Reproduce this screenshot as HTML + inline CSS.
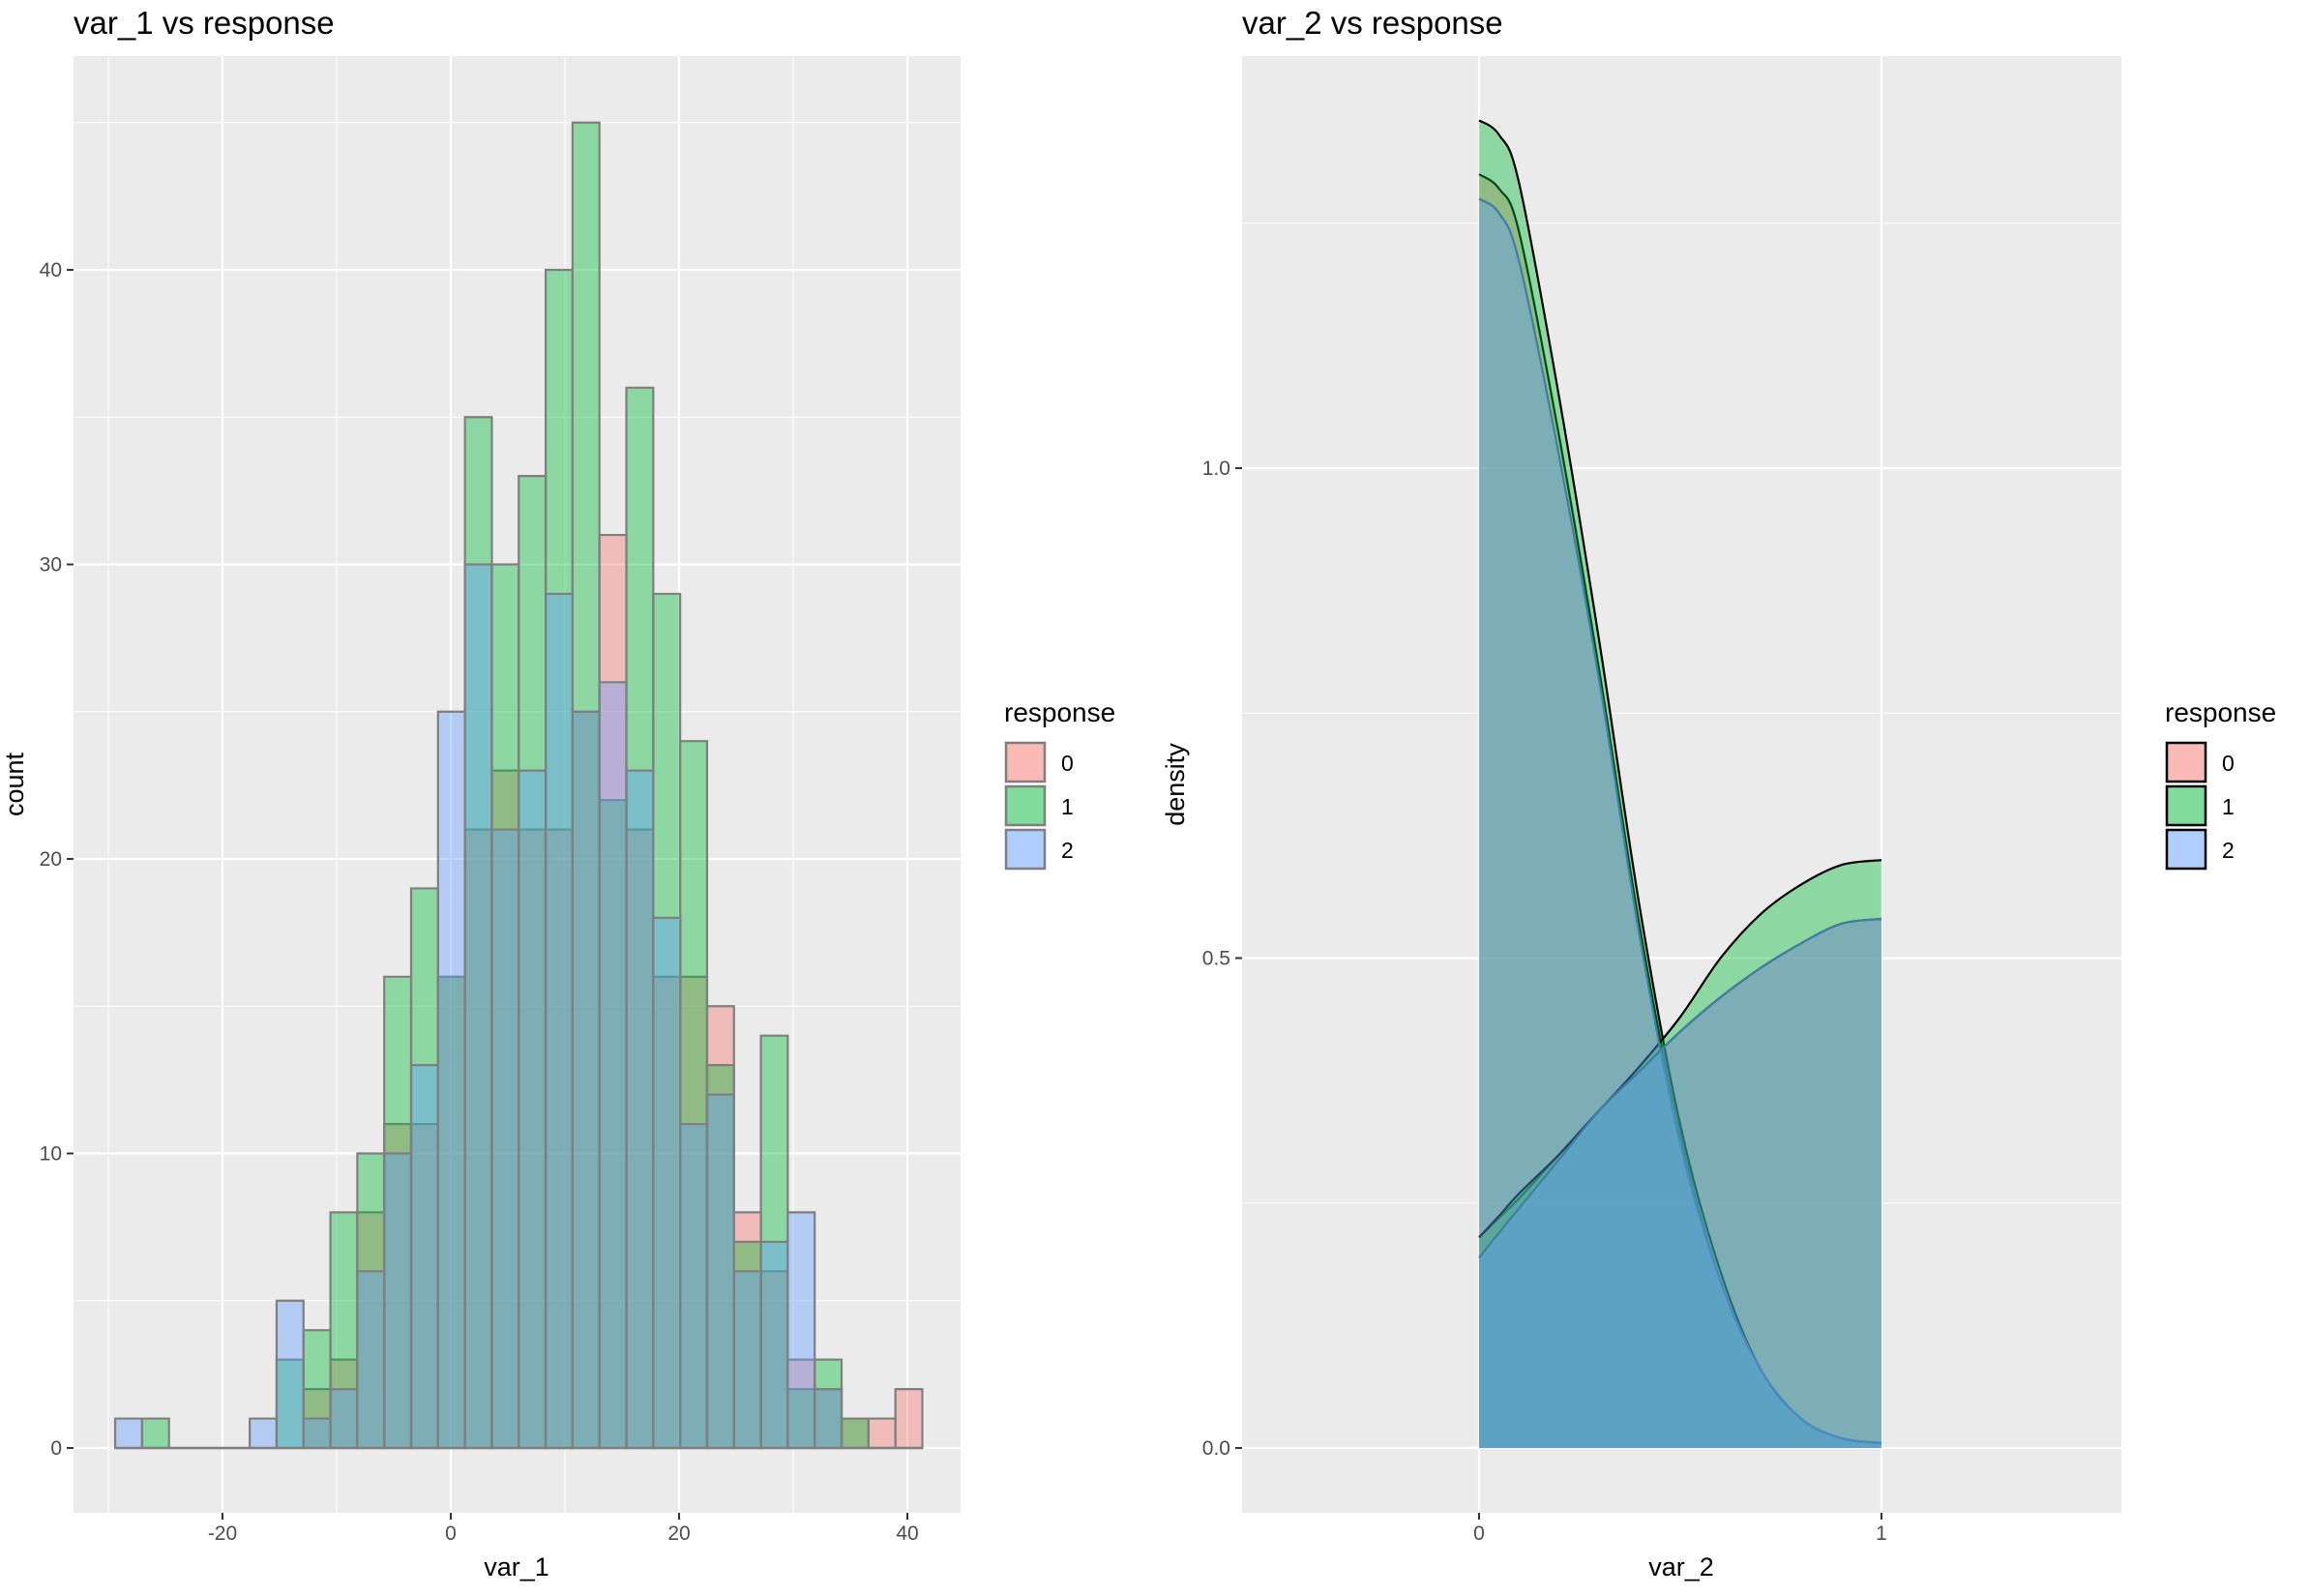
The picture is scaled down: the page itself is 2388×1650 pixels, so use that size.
<!DOCTYPE html>
<html><head><meta charset="utf-8"><style>
html,body{margin:0;padding:0;background:#fff;}
svg{display:block;font-family:"Liberation Sans",Arial,sans-serif;}
</style></head><body>
<svg id="chart" width="2388" height="1650" viewBox="0 0 2388 1650" xmlns="http://www.w3.org/2000/svg"></svg>
<script>
// ---- Histogram data (var_1), 30 bins ----
const binStart = -29.4;
const binWidth = 2.357;
const histGroups = ['0','1','2'];
const counts0 = [0,0,0,0,0,0,0,2,3,8,11,11,16,21,23,21,21,25,31,21,16,16,15,8,6,3,2,1,1,2];
const counts1 = [0,1,0,0,0,0,3,4,8,10,16,19,16,35,30,33,40,45,22,36,29,24,13,7,14,2,3,1,0,0];
const counts2 = [1,0,0,0,0,1,5,1,2,6,10,13,25,30,21,23,29,25,26,23,18,11,12,6,7,8,2,0,0,0];
const histXTicks = [-20,0,20,40];
const histYTicks = [0,10,20,30,40];
// ---- Density data (var_2) ----
const densX = [0,0.05,0.1,0.2,0.3,0.4,0.5,0.6,0.7,0.8,0.9,1];
const densDec0 = [1.30,1.285,1.24,1.03,0.79,0.53,0.32,0.17,0.08,0.03,0.01,0.005];
const densInc0 = [0.215,0.235,0.255,0.30,0.345,0.385,0.425,0.46,0.49,0.515,0.535,0.54];
const densDec1 = [1.355,1.34,1.29,1.07,0.82,0.55,0.33,0.18,0.08,0.03,0.01,0.005];
const densInc1 = [0.215,0.237,0.26,0.30,0.345,0.39,0.44,0.50,0.545,0.575,0.595,0.60];
const densDec2 = [1.275,1.26,1.21,1.01,0.78,0.52,0.31,0.17,0.08,0.03,0.01,0.005];
const densInc2 = [0.194,0.22,0.245,0.295,0.345,0.385,0.425,0.46,0.49,0.515,0.535,0.54];
const densXTicks = [0,1];
const densYTicks = [0,0.5,1.0];
const densYLabels = ['0.0','0.5','1.0'];

const NS='http://www.w3.org/2000/svg';
const svg=document.getElementById('chart');
const fills=['#F8766D','#00BA38','#619CFF'];
const ALPHA=0.4;
function mk(tag,attrs,parent){const e=document.createElementNS(NS,tag);for(const k in attrs)e.setAttribute(k,attrs[k]);(parent||svg).appendChild(e);return e;}

// ===== Left panel =====
const L={x0:76,x1:993,y0:58,y1:1564};
const hx=v=>466+v*11.8;
const hy=v=>1497-v*30.45;
const gL=mk('g',{});


const bgL=mk('rect',{x:L.x0,y:L.y0,width:L.x1-L.x0,height:L.y1-L.y0,fill:'#EBEBEB'},gL);


[-30,-10,10,30].forEach(v=>{const l=mk('line',{x1:hx(v),x2:hx(v),y1:L.y0,y2:L.y1,stroke:'#fff','stroke-width':1},gL);});
[5,15,25,35,45].forEach(v=>{const l=mk('line',{x1:L.x0,x2:L.x1,y1:hy(v),y2:hy(v),stroke:'#fff','stroke-width':1},gL);});
histXTicks.forEach(v=>{const l=mk('line',{x1:hx(v),x2:hx(v),y1:L.y0,y2:L.y1,stroke:'#fff','stroke-width':2.2},gL);});
histYTicks.forEach(v=>{const l=mk('line',{x1:L.x0,x2:L.x1,y1:hy(v),y2:hy(v),stroke:'#fff','stroke-width':2.2},gL);});
[counts0,counts1,counts2].forEach((arr,gi)=>{
  arr.forEach((c,i)=>{
    const xa=hx(binStart+i*binWidth), xb=hx(binStart+(i+1)*binWidth);
    const yt=hy(c), yb=hy(0);
    const r=mk('path',{d:'M'+xa+','+yb+' L'+xa+','+yt+' L'+xb+','+yt+' L'+xb+','+yb+' Z',fill:fills[gi],'fill-opacity':ALPHA,stroke:'#7f7f7f','stroke-width':2.2},gL);
    
    
  });
});
histXTicks.forEach(v=>{
  const t=mk('line',{x1:hx(v),x2:hx(v),y1:L.y1,y2:L.y1+7,stroke:'#333','stroke-width':2},gL);
  
  const s=mk('text',{x:hx(v),y:1592,'font-size':21,fill:'#4d4d4d','text-anchor':'middle'},gL);s.textContent=v;
  
});
histYTicks.forEach(v=>{
  const t=mk('line',{x1:L.x0-7,x2:L.x0,y1:hy(v),y2:hy(v),stroke:'#333','stroke-width':2},gL);
  
  const s=mk('text',{x:64,y:hy(v)+7,'font-size':21,fill:'#4d4d4d','text-anchor':'end'},gL);s.textContent=v;
  
});
let t=mk('text',{x:76,y:35,'font-size':33,fill:'#000'});t.textContent='var_1 vs response';

t=mk('text',{x:534,y:1629,'font-size':27,fill:'#000','text-anchor':'middle'});t.textContent='var_1';

t=mk('text',{x:0,y:0,'font-size':27,fill:'#000','text-anchor':'middle',transform:'translate(24,811) rotate(-90)'});t.textContent='count';


// ===== Right panel =====
const R={x0:1284,x1:2193,y0:58,y1:1564};
const dx=v=>1529+v*416;
const dy=v=>1497-v*1013;
const gR=mk('g',{});


const bgR=mk('rect',{x:R.x0,y:R.y0,width:R.x1-R.x0,height:R.y1-R.y0,fill:'#EBEBEB'},gR);


[0.25,0.75,1.25].forEach(v=>{const l=mk('line',{x1:R.x0,x2:R.x1,y1:dy(v),y2:dy(v),stroke:'#fff','stroke-width':1},gR);});
densXTicks.forEach(v=>{const l=mk('line',{x1:dx(v),x2:dx(v),y1:R.y0,y2:R.y1,stroke:'#fff','stroke-width':2.2},gR);});
densYTicks.forEach(v=>{const l=mk('line',{x1:R.x0,x2:R.x1,y1:dy(v),y2:dy(v),stroke:'#fff','stroke-width':2.2},gR);});
function smoothPath(xs,ys){
  const P=xs.map((x,i)=>[dx(x),dy(ys[i])]);
  let d='M'+P[0][0]+','+P[0][1];
  for(let i=0;i<P.length-1;i++){
    const p0=P[Math.max(0,i-1)],p1=P[i],p2=P[i+1],p3=P[Math.min(P.length-1,i+2)];
    const c1=[p1[0]+(p2[0]-p0[0])/6,p1[1]+(p2[1]-p0[1])/6];
    const c2=[p2[0]-(p3[0]-p1[0])/6,p2[1]-(p3[1]-p1[1])/6];
    d+=' C'+c1[0]+','+c1[1]+' '+c2[0]+','+c2[1]+' '+p2[0]+','+p2[1];
  }
  return d;
}
const densSeries=[[densDec0,densInc0],[densDec1,densInc1],[densDec2,densInc2]];
densSeries.forEach((pair,gi)=>{
  pair.forEach((ys,k)=>{
    const top=smoothPath(densX,ys);
    const a=mk('path',{d:top+' L'+dx(1)+','+dy(0)+' L'+dx(0)+','+dy(0)+' Z',fill:fills[gi],'fill-opacity':ALPHA,stroke:'none'},gR);
    
    
    const ln=mk('path',{d:top,fill:'none',stroke:gi===2?'#3f7f9f':'#000','stroke-width':2.2},gR);
    
    
  });
});
densXTicks.forEach(v=>{
  const tk=mk('line',{x1:dx(v),x2:dx(v),y1:R.y1,y2:R.y1+7,stroke:'#333','stroke-width':2},gR);
  
  const s=mk('text',{x:dx(v),y:1592,'font-size':21,fill:'#4d4d4d','text-anchor':'middle'},gR);s.textContent=v;
  
});
densYTicks.forEach((v,i)=>{
  const tk=mk('line',{x1:R.x0-7,x2:R.x0,y1:dy(v),y2:dy(v),stroke:'#333','stroke-width':2},gR);
  
  const s=mk('text',{x:1272,y:dy(v)+7,'font-size':21,fill:'#4d4d4d','text-anchor':'end'},gR);s.textContent=densYLabels[i];
  
});
t=mk('text',{x:1284,y:35,'font-size':33,fill:'#000'});t.textContent='var_2 vs response';

t=mk('text',{x:1738,y:1629,'font-size':27,fill:'#000','text-anchor':'middle'});t.textContent='var_2';

t=mk('text',{x:0,y:0,'font-size':27,fill:'#000','text-anchor':'middle',transform:'translate(1224,811) rotate(-90)'});t.textContent='density';


// ===== Legends =====
function legend(x,stroke,name){
  const g=mk('g',{});
  
  
  const ti=mk('text',{x:x,y:746,'font-size':28,fill:'#000'},g);ti.textContent='response';
  
  histGroups.forEach((lab,i)=>{
    const y=767+i*45;
    const bg=mk('rect',{x:x+1,y:y,width:42,height:42,fill:'#fff',stroke:'none'},g);
    
    const r=mk('rect',{x:x+2,y:y+1,width:40,height:40,fill:fills[i],'fill-opacity':ALPHA+0.1,stroke:stroke,'stroke-width':2.5},g);
    
    const s=mk('text',{x:x+59,y:y+30,'font-size':23,fill:'#000'},g);s.textContent=lab;
    
  });
}
legend(1038,'#7f7f7f','histogram-legend');
legend(2238,'#000','density-legend');
</script>
</body></html>
